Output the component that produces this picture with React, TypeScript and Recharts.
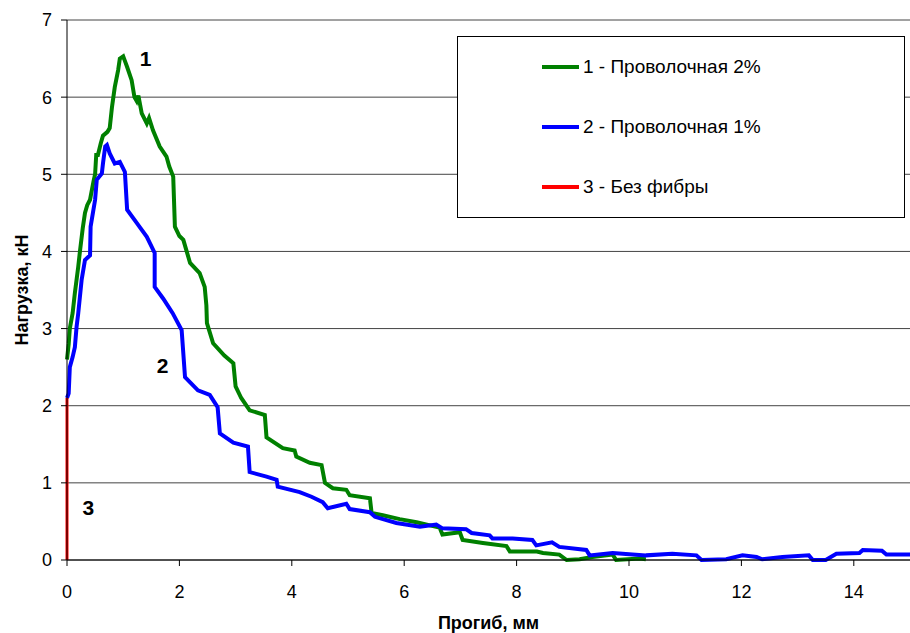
import React from 'react'
import { LineChart, Line, XAxis, YAxis, CartesianGrid, Label, ReferenceDot } from 'recharts'

// прогиб (мм), нагрузка (кН)
const wire2pct: [number, number][] = [
  [0, 2.6], [0.03, 2.8], [0.05, 3.0], [0.1, 3.2], [0.14, 3.46], [0.2, 3.8], [0.23, 4.0], [0.28, 4.3],
  [0.32, 4.5], [0.36, 4.6], [0.41, 4.67], [0.47, 4.9], [0.5, 5.0], [0.52, 5.25], [0.55, 5.25], [0.6, 5.4],
  [0.64, 5.5], [0.72, 5.55], [0.76, 5.6], [0.8, 5.87], [0.85, 6.13], [0.91, 6.35], [0.94, 6.5], [1.0, 6.53],
  [1.04, 6.45], [1.07, 6.39], [1.15, 6.22], [1.2, 6.0], [1.24, 5.95], [1.27, 6.02], [1.33, 5.79], [1.42, 5.66],
  [1.46, 5.73], [1.53, 5.57], [1.65, 5.36], [1.77, 5.23], [1.82, 5.1], [1.89, 4.97], [1.92, 4.32], [2.0, 4.2],
  [2.07, 4.15], [2.19, 3.85], [2.36, 3.72], [2.45, 3.54], [2.48, 3.3], [2.49, 3.07], [2.6, 2.81], [2.8, 2.65],
  [2.96, 2.55], [3.0, 2.25], [3.1, 2.1], [3.25, 1.94], [3.52, 1.88], [3.55, 1.59], [3.84, 1.45], [4.05, 1.42],
  [4.08, 1.34], [4.32, 1.26], [4.53, 1.23], [4.59, 1.0], [4.73, 0.93], [4.97, 0.91], [5.03, 0.84], [5.39, 0.8],
  [5.42, 0.61], [5.62, 0.58], [5.92, 0.53], [6.22, 0.49], [6.63, 0.42], [6.68, 0.33], [6.99, 0.36], [7.04, 0.26],
  [7.4, 0.22], [7.82, 0.18], [7.88, 0.11], [8.36, 0.11], [8.47, 0.09], [8.76, 0.07], [8.89, 0.0], [9.12, 0.01],
  [9.35, 0.04], [9.71, 0.07], [9.77, 0.0], [10.19, 0.02], [10.3, 0.01],
]

const wire1pct: [number, number][] = [
  [0, 2.1], [0.03, 2.16], [0.05, 2.5], [0.1, 2.63], [0.14, 2.76], [0.17, 3.02], [0.2, 3.2], [0.26, 3.63],
  [0.32, 3.89], [0.41, 3.95], [0.42, 4.32], [0.5, 4.67], [0.53, 4.93], [0.62, 5.01], [0.64, 5.14], [0.68, 5.36],
  [0.71, 5.38], [0.76, 5.27], [0.85, 5.14], [0.94, 5.16], [1.03, 5.03], [1.07, 4.54], [1.24, 4.37], [1.42, 4.19],
  [1.56, 3.98], [1.56, 3.54], [1.71, 3.39], [1.88, 3.2], [2.04, 2.98], [2.1, 2.37], [2.33, 2.2], [2.54, 2.14],
  [2.68, 1.98], [2.72, 1.64], [2.96, 1.52], [3.22, 1.47], [3.25, 1.14], [3.55, 1.08], [3.73, 1.04], [3.75, 0.95],
  [4.14, 0.88], [4.35, 0.82], [4.55, 0.75], [4.64, 0.67], [4.97, 0.73], [5.03, 0.66], [5.39, 0.62], [5.48, 0.56],
  [5.86, 0.48], [6.28, 0.43], [6.57, 0.46], [6.68, 0.41], [7.1, 0.4], [7.2, 0.35], [7.52, 0.32], [7.57, 0.28],
  [7.93, 0.28], [8.28, 0.26], [8.35, 0.19], [8.63, 0.23], [8.76, 0.17], [9.24, 0.13], [9.3, 0.06], [9.71, 0.09],
  [10.3, 0.06], [10.77, 0.08], [11.2, 0.06], [11.29, 0.0], [11.73, 0.01], [12.02, 0.06], [12.27, 0.04], [12.37, 0.01],
  [12.73, 0.04], [13.2, 0.06], [13.27, 0.0], [13.5, 0.0], [13.69, 0.08], [14.1, 0.09], [14.16, 0.13], [14.5, 0.12],
  [14.58, 0.07], [15, 0.07],
]

const noFiber: [number, number][] = [[0, 0], [0, 2.1]]

const xTicks = [0, 2, 4, 6, 8, 10, 12, 14]
const yTicks = [0, 1, 2, 3, 4, 5, 6, 7]

const seriesNames = ['1 - Проволочная 2%', '2 - Проволочная 1%', '3 - Без фибры']
const seriesColors = ['#008000', '#0000ff', '#ff0000']

const toRows = (pts: [number, number][]) => pts.map(([x, y]) => ({ x, y }))

const font = 'Arial, "Liberation Sans", sans-serif'

// легенда поверх графика, как в Excel
const LegendBox = () => (
  <div style={{ position: 'absolute', left: 457, top: 36, width: 446, height: 180, border: '1px solid #000', background: '#fff', fontFamily: font, fontSize: 19 }}>
    {seriesNames.map((n, i) => (
      <div key={n} style={{ position: 'absolute', left: 84, top: 19 + i * 60, display: 'flex', alignItems: 'center', height: 22 }}>
        <div style={{ width: 37, height: 4, background: seriesColors[i], marginRight: 4 }} />
        <span>{n}</span>
      </div>
    ))}
  </div>
)

export default function App() {
  const tick = { fontSize: 18, fill: '#000', fontFamily: font }
  const note = { fontSize: 21, fontWeight: 'bold' as const, fill: '#000', fontFamily: font }
  return (
    <div style={{ position: 'absolute', left: 0, top: 0, width: 910, height: 633 }}>
      <LineChart width={910} height={633} margin={{ top: 20, right: 0, left: 0, bottom: 0 }}>
        <CartesianGrid vertical={false} stroke='#444' />
        <XAxis type='number' dataKey='x' domain={[0, 15]} ticks={xTicks} height={73}
          stroke='#000' tick={tick} tickMargin={19} allowDuplicatedCategory={false}>
          <Label value='Прогиб, мм' position='center' dy={26} style={{ fontSize: 18, fontWeight: 'bold', fill: '#000', fontFamily: font }} />
        </XAxis>
        <YAxis type='number' domain={[0, 7]} ticks={yTicks} width={67} stroke='#000' tick={tick} tickMargin={9}>
          <Label value='Нагрузка, кН' angle={-90} position='center' dx={-12} style={{ fontSize: 18, fontWeight: 'bold', fill: '#000', fontFamily: font, textAnchor: 'middle' }} />
        </YAxis>
        <Line data={toRows(wire2pct)} dataKey='y' name={seriesNames[0]} stroke={seriesColors[0]} strokeWidth={4} dot={false} type='linear' isAnimationActive={false} />
        <Line data={toRows(wire1pct)} dataKey='y' name={seriesNames[1]} stroke={seriesColors[1]} strokeWidth={4} dot={false} type='linear' isAnimationActive={false} />
        <Line data={toRows(noFiber)} dataKey='y' name={seriesNames[2]} stroke={seriesColors[2]} strokeWidth={3} dot={false} type='linear' isAnimationActive={false} />
        <ReferenceDot x={1.4} y={6.5} r={0} label={{ value: '1', ...note }} />
        <ReferenceDot x={1.7} y={2.52} r={0} label={{ value: '2', ...note }} />
        <ReferenceDot x={0.38} y={0.68} r={0} label={{ value: '3', ...note }} />
      </LineChart>
      <LegendBox />
    </div>
  )
}
